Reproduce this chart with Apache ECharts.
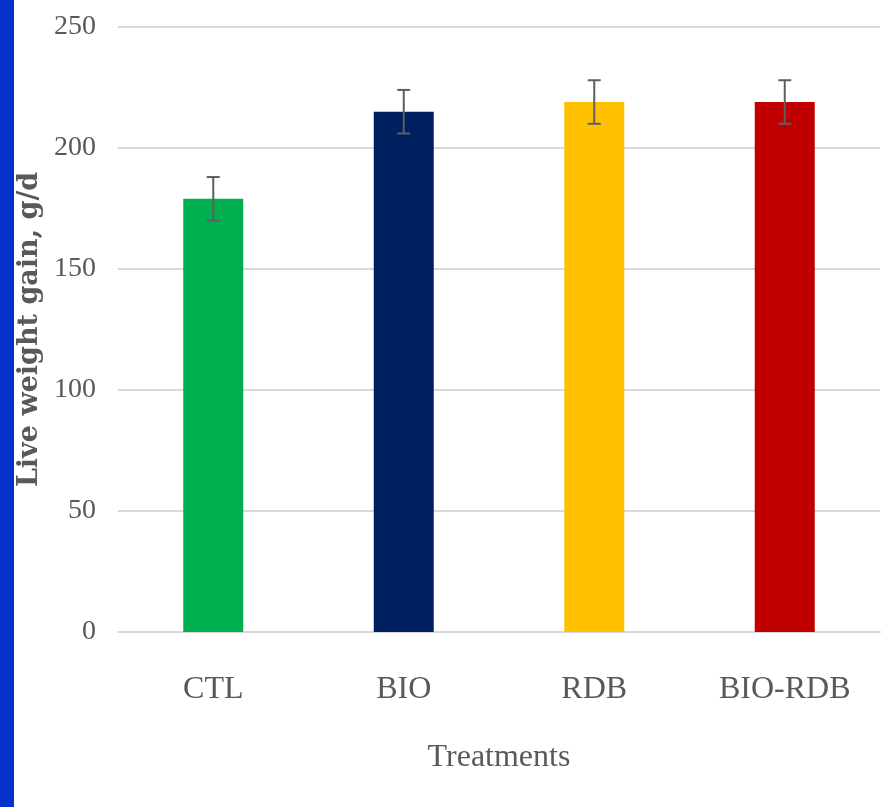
<!DOCTYPE html>
<html>
<head>
<meta charset="utf-8">
<script src="https://cdn.jsdelivr.net/npm/echarts@6/dist/echarts.min.js"></script>
<style>
html,body{margin:0;padding:0;background:#fff;}
#wrap{position:relative;width:884px;height:807px;}
#bar{position:absolute;left:0;top:0;width:14px;height:807px;background:#0532cc;}
#chart{position:absolute;left:0;top:0;width:884px;height:807px;}
</style>
</head>
<body>
<div id="wrap"><div id="chart"></div><div id="bar"></div></div>
<script>
const categories = ['CTL', 'BIO', 'RDB', 'BIO-RDB'];
const gainValues = [179, 215, 219, 219];
const gainErrors = [9, 9, 9, 9];
const barColors = ['#00B050', '#002060', '#FFC000', '#C00000'];
const yTicks = [0, 50, 100, 150, 200, 250];

const chart = echarts.init(document.getElementById('chart'));
const serif = '"Liberation Serif", "Times New Roman", serif';

chart.setOption({
  backgroundColor: '#ffffff',
  animation: false,
  grid: { left: 118, right: 4, top: 27, bottom: 175 },
  xAxis: {
    type: 'category',
    data: categories,
    name: 'Treatments',
    nameLocation: 'middle',
    nameGap: 110,
    nameTextStyle: { fontFamily: serif, fontSize: 32, color: '#595959' },
    axisLine: { show: true, lineStyle: { color: '#d9d9d9', width: 2 } },
    axisTick: { show: false },
    axisLabel: { fontFamily: serif, fontSize: 32, color: '#595959', margin: 42 }
  },
  yAxis: {
    type: 'value',
    min: yTicks[0],
    max: yTicks[yTicks.length - 1],
    interval: yTicks[1] - yTicks[0],
    name: 'Live weight gain, g/d',
    nameLocation: 'middle',
    nameGap: 72,
    nameTextStyle: { fontFamily: '"DejaVu Serif", serif', fontWeight: 'bold', fontSize: 27, color: '#595959' },
    axisLine: { show: false },
    axisTick: { show: false },
    splitLine: { lineStyle: { color: '#d9d9d9', width: 2 } },
    axisLabel: { fontFamily: serif, fontSize: 28, color: '#595959', margin: 22 }
  },
  series: [
    {
      type: 'bar',
      barWidth: 60,
      data: gainValues.map((v, i) => ({ value: v, itemStyle: { color: barColors[i] } })),
      z: 2
    },
    {
      type: 'custom',
      z: 5,
      data: gainValues.map((v, i) => [i, v - gainErrors[i], v + gainErrors[i]]),
      renderItem: function (params, api) {
        const lo = api.coord([api.value(0), api.value(1)]);
        const hi = api.coord([api.value(0), api.value(2)]);
        const half = 6.5;
        const style = { stroke: '#5f5f5f', lineWidth: 2 };
        return {
          type: 'group',
          children: [
            { type: 'line', shape: { x1: lo[0], y1: lo[1], x2: hi[0], y2: hi[1] }, style: style },
            { type: 'line', shape: { x1: lo[0] - half, y1: lo[1], x2: lo[0] + half, y2: lo[1] }, style: style },
            { type: 'line', shape: { x1: hi[0] - half, y1: hi[1], x2: hi[0] + half, y2: hi[1] }, style: style }
          ]
        };
      }
    }
  ]
});
</script>
</body>
</html>
